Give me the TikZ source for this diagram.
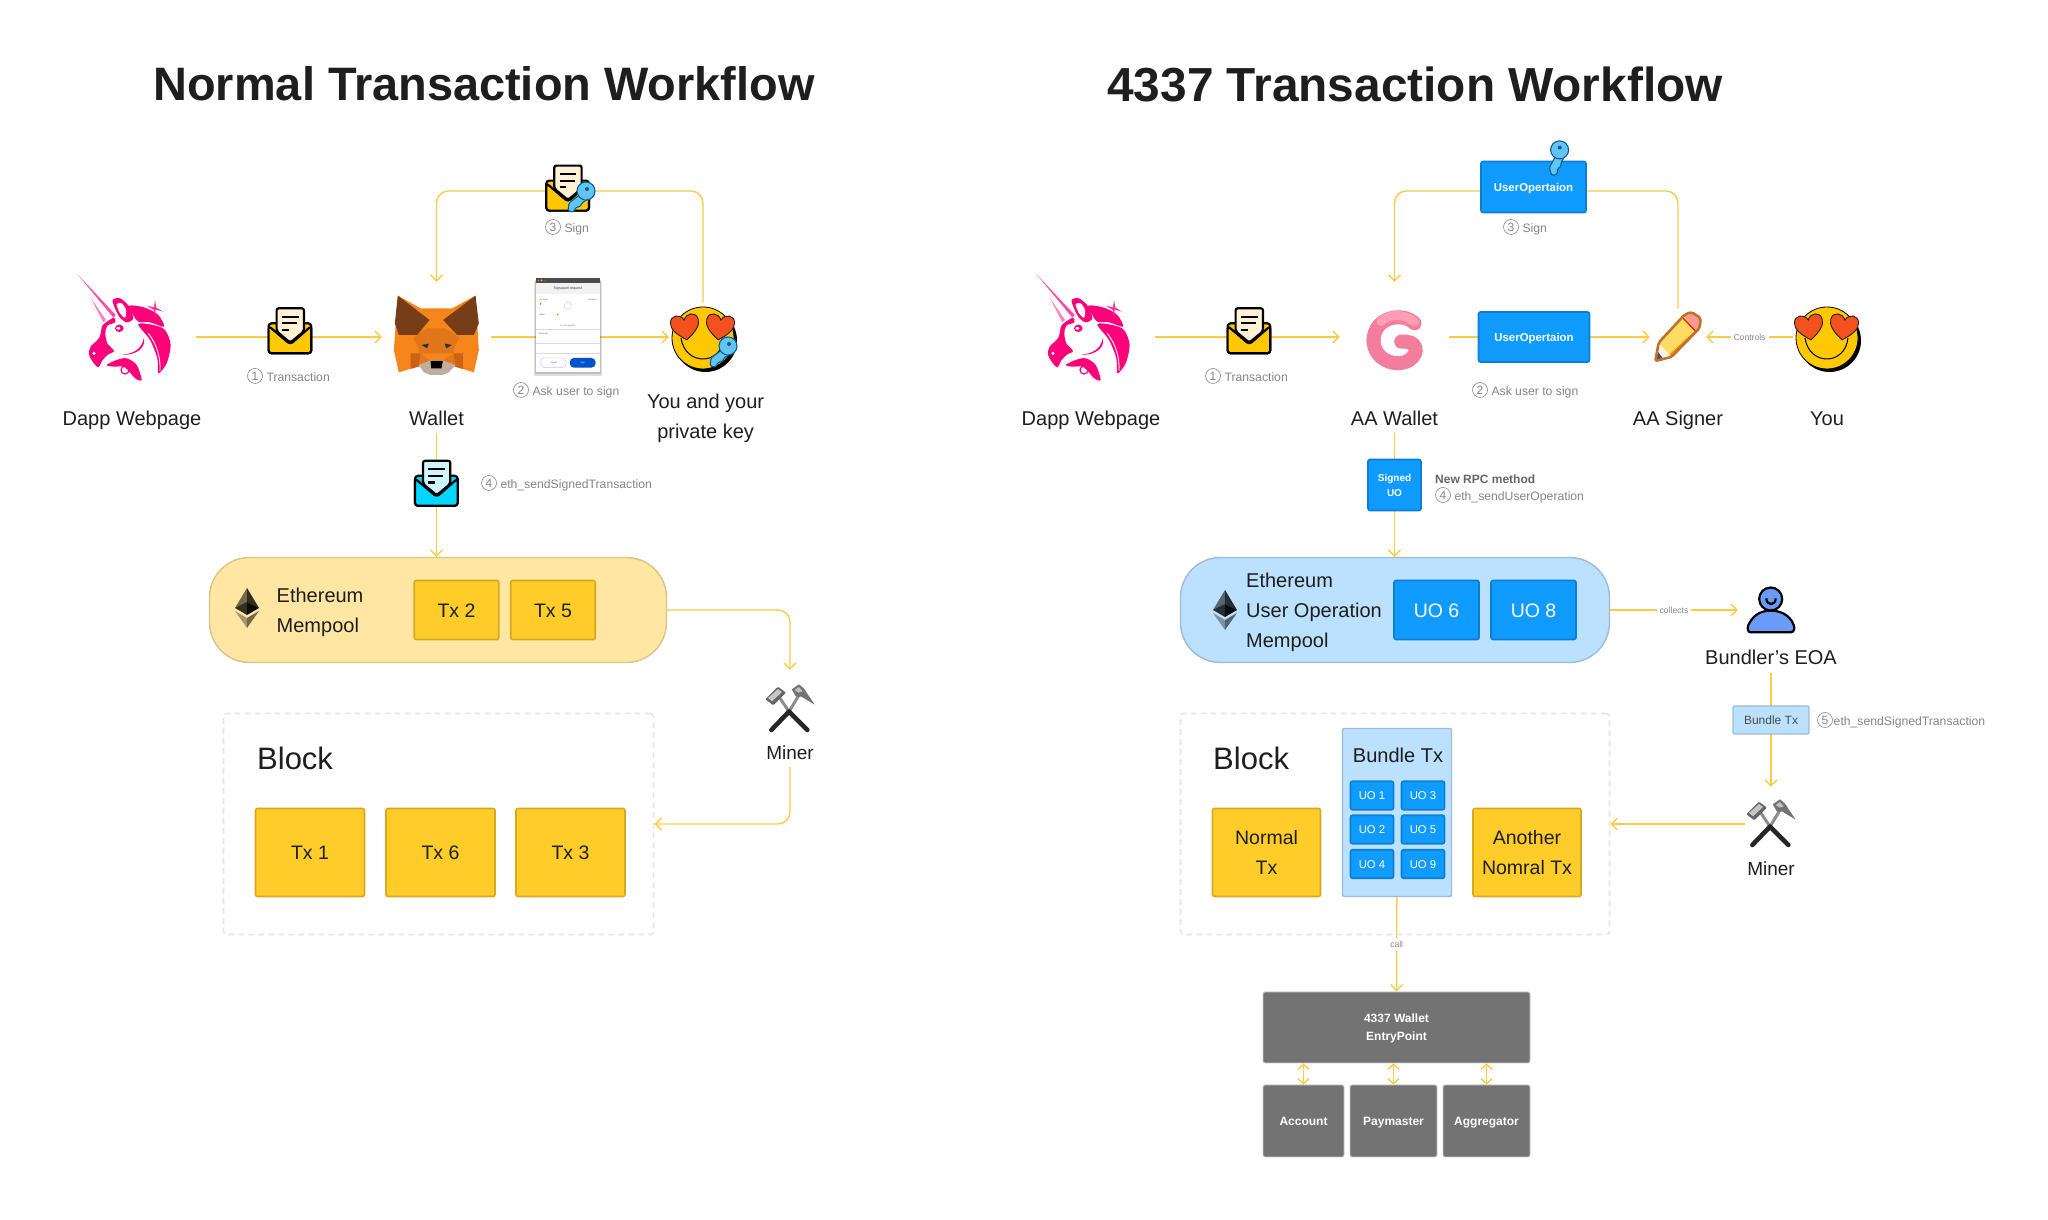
\documentclass[tikz,border=0pt]{standalone}
\usepackage{fontspec}
\setmainfont{Liberation Sans}
\usepackage{tikz}
\usetikzlibrary{arrows.meta,positioning,backgrounds}
\definecolor{flowyellow}{HTML}{FFCB45}
\definecolor{poolyellow}{HTML}{FFE6A3}
\definecolor{poolyellowline}{HTML}{D8C488}
\definecolor{txyellow}{HTML}{FFCC29}
\definecolor{txyellowline}{HTML}{D6A91F}
\definecolor{uoblue}{HTML}{0F9BFF}
\definecolor{uoblueline}{HTML}{0B7FD6}
\definecolor{poolblue}{HTML}{BBE1FF}
\definecolor{poolblueline}{HTML}{9DBBD6}
\definecolor{blockgrey}{HTML}{E6E6E6}
\definecolor{notegrey}{HTML}{858585}
\definecolor{inkblack}{HTML}{1E1E1E}
\definecolor{vmgrey}{HTML}{737373}
\definecolor{vmline}{HTML}{C8C8C8}
\definecolor{unipink}{HTML}{FF007A}
\definecolor{envyellow}{HTML}{FFC800}
\definecolor{envpaper}{HTML}{FFF1D6}
\definecolor{envcyan}{HTML}{00D6FF}
\definecolor{envice}{HTML}{CFF5FF}
\definecolor{keyblue}{HTML}{62C4F5}
\definecolor{keydark}{HTML}{0E5C8C}
\definecolor{heartred}{HTML}{F4511E}
\definecolor{foxmain}{HTML}{F6851B}
\definecolor{foxmid}{HTML}{E2761B}
\definecolor{foxdark}{HTML}{CD6116}
\definecolor{foxear}{HTML}{763D16}
\definecolor{foxeye}{HTML}{233447}
\definecolor{foxmuzzle}{HTML}{C0AD9E}
\definecolor{spiralmain}{HTML}{F47C9C}
\definecolor{spiraltop}{HTML}{FF9DB6}
\definecolor{personblue}{HTML}{6A9BF8}
% lines of a label sit at the same height, with or without descenders
\newcommand{\lineup}{\rule{0pt}{.74\baselineskip}}
\newcommand{\linedown}{\rule[-.26\baselineskip]{0pt}{.26\baselineskip}}
\tikzstyle{evenlines} = [execute at begin node=\lineup, execute at end node=\linedown]
\tikzstyle{flow} = [draw=flowyellow, line width=1.4pt, -{Straight Barb[length=6pt,width=12pt]}]
\tikzstyle{flowtwo} = [draw=flowyellow, line width=1.4pt, {Straight Barb[length=5pt,width=11pt]}-{Straight Barb[length=5pt,width=11pt]}]
\tikzstyle{iconbox} = [inner sep=0pt]
\tikzstyle{mainlabel} = [evenlines, inner sep=0pt, minimum height=30pt, align=center, text=inkblack,
    font=\fontsize{20}{30}\selectfont]
\tikzstyle{title} = [inner sep=0pt, text=inkblack, font=\fontsize{46.9}{50}\bfseries\selectfont]
\tikzstyle{notemark} = [draw=notegrey, circle, line width=0.6pt, inner sep=0pt, minimum size=15pt,
    text=notegrey, font=\fontsize{12}{12}\selectfont]
\tikzstyle{note} = [inner sep=0pt, text height=10.4pt, text depth=0pt, text=notegrey, font=\fontsize{12.2}{14}\selectfont]
\tikzstyle{midnote} = [fill=white, inner sep=3pt, text=notegrey, font=\fontsize{8.6}{10}\selectfont]
\tikzstyle{txbox} = [evenlines, draw=txyellowline, fill=txyellow, line width=1.6pt, rounded corners=2pt, inner sep=0pt,
    align=center, text=inkblack, font=\fontsize{19.5}{30}\selectfont]
\tikzstyle{uobox} = [evenlines, draw=uoblueline, fill=uoblue, line width=1.6pt, rounded corners=2pt, inner sep=0pt,
    align=center, text=white, font=\fontsize{19.5}{30}\selectfont]
\tikzstyle{minibox} = [uobox, minimum width=43pt, minimum height=28.5pt, font=\fontsize{11.3}{17}\selectfont]
\tikzstyle{opbox} = [uobox, font=\fontsize{11.4}{17}\bfseries\selectfont]
\tikzstyle{pool} = [line width=1.4pt, rounded corners=40pt, minimum height=105pt, inner sep=0pt]
\tikzstyle{blockbox} = [draw=blockgrey, line width=1.6pt, dash pattern=on 6pt off 4pt, rounded corners=3pt,
    minimum height=221pt, inner sep=0pt]
\tikzstyle{vmbox} = [evenlines, draw=vmline, fill=vmgrey, line width=0.8pt, rounded corners=2pt, inner sep=0pt, align=center,
    text=white, font=\fontsize{12}{18}\bfseries\selectfont]
\tikzset{
  pics/mailicon/.style 2 args={code={
    \begin{scope}[x=0.3333pt,y=-0.3333pt,shift={(-563,-115)}, line width=2.2pt, line join=round, draw=black]
      \draw[fill=#1, rounded corners=3pt] (500,92) rectangle (628,182);
      \draw[fill=#2, rounded corners=2pt] (524,47) -- (606,47) -- (606,116) -- (565,150) -- (524,116) -- cycle;
      \draw (540,72) -- (590,72) (540,92) -- (585,92) (540,112) -- (560,112);
      \draw[fill=#1, rounded corners=3pt] (500,100) -- (565,155) -- (628,100) -- (628,182) -- (500,182) -- cycle;
    \end{scope}
  }},
  pics/keyicon/.style={code={
    \draw[fill=keyblue, draw=keydark, line width=1.1pt, rounded corners=1.5pt]
      (-1,3) -- (-13,-6) -- (-14,-14) -- (-8,-15) -- (-6,-10) -- (-2,-10) -- (0,-6) -- (6,-2) -- cycle;
    \draw[fill=keyblue, draw=keydark, line width=1.1pt] (4,6) circle (9pt);
    \fill[keyblue] (-1,3) -- (3,-3) -- (5,1) -- (1,5) -- cycle;
    \fill[keydark] (5,8) circle (2pt);
  }},
  pics/hearticon/.style={code={
    \draw[fill=heartred, draw=inkblack, line width=0.9pt]
      (0,-14) .. controls (-10,-7) and (-15,-1) .. (-14,5) .. controls (-13,13) and (-3,13) .. (0,6)
      .. controls (3,13) and (13,13) .. (14,5) .. controls (15,-1) and (10,-7) .. (0,-14) -- cycle;
  }},
  pics/smileicon/.style={code={
    \fill[black] (2.5,-2.5) circle (31.5pt);
    \draw[fill=envyellow, draw=black, line width=0.8pt] (0,0) circle (31pt);
    \draw[line width=1pt, black] (-22,0) .. controls (-18,-28) and (18,-28) .. (21,0);
    \pic[rotate=8] at (-18,12) {hearticon};
    \pic[rotate=-8] at (17,12) {hearticon};
  }},
  pics/unicornicon/.style={code={
    \begin{scope}[x=0.3333pt,y=-0.3333pt,shift={(-165,-186)}]
      \fill[unipink!70] (22,27) -- (137,150) -- (130,158) -- cycle;
      \fill[unipink!50] (62,98) -- (108,165) -- (100,172) -- cycle;
      \fill[unipink] plot[smooth cycle] coordinates {(132,158) (136,172) (112,182) (106,205) (112,235) (132,258)
        (115,268) (98,285) (85,307) (68,290) (57,268) (62,245) (88,218) (96,185) (108,172)};
      \fill[white] (72,265) circle (1.7pt);
      \fill[unipink] plot[smooth cycle] coordinates {(128,105) (150,100) (178,125) (190,160) (170,172) (150,158) (135,130)};
      \fill[white] plot[smooth cycle] coordinates {(140,118) (155,115) (168,135) (165,158) (150,145)};
      \fill[unipink] (148,190) ellipse [x radius=13, y radius=11];
      \fill[white] (145,190) ellipse [x radius=6, y radius=4];
      \fill[unipink] plot[smooth cycle] coordinates {(178,122) (225,128) (265,150) (282,185) (240,172) (205,170) (190,150)};
      \fill[unipink] plot[smooth cycle] coordinates {(205,178) (250,180) (285,195) (302,240) (290,295) (265,325) (262,280) (240,225)};
      \draw[white, line width=0.9pt] (235,205) .. controls (262,240) and (272,280) .. (270,318);
      \fill[unipink] (155,270) .. controls (190,265) and (215,255) .. (222,218) .. controls (228,250) and (200,270) .. (155,270) -- cycle;
      \fill[unipink] plot[smooth cycle] coordinates {(110,300) (140,285) (170,280) (200,300) (215,345) (195,340) (180,322) (160,305) (130,305)};
      \draw[unipink, line width=1.2pt] (165,315) circle (4pt);
      \fill[unipink!80] (255,105) -- (259,128) -- (280,140) -- (257,134) -- (256,160) -- (252,135) -- (230,122) -- (252,127) -- cycle;
    \end{scope}
  }},
  pics/foxicon/.style={code={
    \begin{scope}[x=0.3333pt,y=-0.3333pt,shift={(-153,-150)}]
      \fill[foxmain] (37,32) -- (105,70) -- (200,70) -- (270,32) -- (280,195) -- (265,262) -- (210,245)
        -- (170,228) -- (135,228) -- (95,245) -- (40,262) -- (25,195) -- cycle;
      \fill[foxmid] (83,158) -- (125,130) -- (180,130) -- (222,158) -- (205,190) -- (205,205) -- (100,205) -- (100,190) -- cycle;
      \fill[foxdark] (75,205) -- (105,205) -- (100,245) -- (75,252) -- cycle;
      \fill[foxdark] (205,205) -- (232,205) -- (232,252) -- (208,245) -- cycle;
      \fill[foxmid] (105,205) -- (135,228) -- (100,240) -- cycle;
      \fill[foxmid] (205,205) -- (170,228) -- (208,240) -- cycle;
      \fill[foxear] (37,32) -- (132,105) -- (95,150) -- (40,150) -- (28,115) -- cycle;
      \fill[foxear] (270,32) -- (173,105) -- (215,150) -- (265,150) -- (280,115) -- cycle;
      \fill[foxeye] (108,180) -- (130,176) -- (125,190) -- cycle;
      \fill[foxeye] (178,176) -- (200,180) -- (182,190) -- cycle;
      \fill[foxmuzzle] (100,240) -- (135,226) -- (172,226) -- (210,240) -- (190,262) -- (170,270) -- (135,270) -- (115,262) -- cycle;
      \fill[black] (135,228) -- (172,228) -- (168,250) -- (137,250) -- cycle;
    \end{scope}
  }},
  pics/spiralicon/.style={code={
    \begin{scope}[x=0.3333pt,y=-0.3333pt,shift={(-105,-130)}, line cap=round]
      \draw[line width=14pt, spiralmain] (42,130) .. controls (42,190) and (110,215) .. (150,190)
        .. controls (180,170) and (175,130) .. (125,135);
      \draw[line width=14pt, spiralmain] (165,80) .. controls (130,45) and (45,60) .. (42,130);
      \draw[line width=9pt, spiraltop] (165,76) .. controls (135,50) and (90,50) .. (65,75);
    \end{scope}
  }},
  pics/pencilicon/.style={code={
    \begin{scope}[x=0.3333pt,y=-0.3333pt,shift={(-85,-125)}, line join=round]
      \fill[yellow!60!orange!60!white] (17,197) -- (27,142) -- (105,58) -- (125,50) -- (153,68) -- (150,98) -- (65,185) -- cycle;
      \fill[red!40!white] (104,62) -- (125,50) -- (153,68) -- (150,98) -- (140,108) -- cycle;
      \draw[red!80!orange, line width=1.4pt] (100,68) -- (140,110);
      \draw[orange, line width=1.4pt] (62,178) -- (133,112);
      \fill[orange!10!white] (27,142) -- (65,185) -- (17,197) -- cycle;
      \fill[blue!30!black!70!white] (17,197) -- (24,168) -- (40,190) -- cycle;
      \draw[brown!70!orange!90!black, line width=2.6pt, rounded corners=2pt]
        (17,197) -- (27,142) -- (105,58) -- (125,50) -- (153,68) -- (150,98) -- (65,185) -- cycle;
    \end{scope}
  }},
  pics/personicon/.style={code={
    \begin{scope}[x=0.3333pt,y=-0.3333pt,shift={(-106,-90)}, draw=black, line width=2.2pt]
      \draw[fill=personblue] (45,157) -- (165,157) .. controls (178,157) and (178,140) .. (172,130)
        .. controls (160,105) and (135,92) .. (105,92) .. controls (70,92) and (50,110) .. (38,135)
        .. controls (33,148) and (38,157) .. (45,157) -- cycle;
      \draw[fill=personblue] (105,57) circle (11.5pt);
      \draw (92,55) .. controls (92,78) and (120,78) .. (120,55);
    \end{scope}
  }},
  pics/hammericon/.style={code={
    \begin{scope}[x=0.3333pt,y=-0.3333pt,shift={(-78,-87)}, line cap=round]
      \draw[black!45, line width=3pt] (75,95) -- (45,50);
      \draw[black!45, line width=3pt] (75,95) -- (105,45);
      \draw[black!85, line width=4.6pt] (22,150) -- (75,95);
      \draw[black!85, line width=4.6pt] (130,150) -- (75,95);
      \fill[black!60, rounded corners=1pt] (4,58) -- (42,20) -- (66,38) -- (28,76) -- cycle;
      \fill[black!22] (12,54) -- (42,27) -- (54,36) -- (24,64) -- cycle;
      \fill[black!55] (83,28) -- (105,13) -- (120,26) -- (152,74) -- (112,50) -- (96,50) -- cycle;
      \fill[black!25] (92,30) -- (105,21) -- (116,34) -- (104,38) -- cycle;
    \end{scope}
  }},
  pics/ethicon/.style={code={
    \fill[black, opacity=0.55] (0,20) -- (-12,0) -- (0,6) -- cycle;
    \fill[black, opacity=0.8] (0,20) -- (12,0) -- (0,6) -- cycle;
    \fill[black, opacity=0.8] (-12,0) -- (0,6) -- (0,-7) -- cycle;
    \fill[black, opacity=0.95] (12,0) -- (0,6) -- (0,-7) -- cycle;
    \fill[black, opacity=0.35] (-12,-3) -- (0,-10) -- (0,-20) -- cycle;
    \fill[black, opacity=0.55] (12,-3) -- (0,-10) -- (0,-20) -- cycle;
  }},
  pics/dialogicon/.style={code={
    \begin{scope}[x=0.3333pt,y=-0.3333pt,shift={(-563.5,-524)}]
      \fill[black, opacity=0.12] (461,392) rectangle (666,678);
      \fill[black, opacity=0.15] (465,388) rectangle (662,670);
      \fill[white] (467,383) rectangle (660,665);
      \fill[black!25!white, opacity=0.2] (467,398) rectangle (660,432);
      \fill[black!70] (467,383) rectangle (660,398);
      \fill[red!70] (474,390) circle (1pt);
      \fill[yellow!80!black] (484,390) circle (1pt);
      \fill[green!60!black] (494,390) circle (1pt);
      \draw[black!15, line width=0.4pt] (467,537) -- (660,537) (467,580) -- (660,580) (467,610) -- (660,610);
      \draw[black!20, line width=0.4pt] (563,466) circle (3.6pt);
      \fill[orange] (481,461) circle (1pt);
      \fill[orange] (533,493) circle (1pt);
      \draw[blue!25, line width=0.4pt, rounded corners=4pt] (481,623) rectangle (558,652);
      \fill[blue!60!cyan!80!black, rounded corners=4pt] (569,623) rectangle (646,652);
      \node[inner sep=0pt, font=\fontsize{3.6}{4}\selectfont, text=black!75] (dlgtitle) at (563,415) {Signature request};
      \node[inner sep=0pt, anchor=west, font=\fontsize{2.2}{3}\selectfont, text=black!60] (dlgaccount) at (478,447) {Account:};
      \node[inner sep=0pt, anchor=east, font=\fontsize{2.2}{3}\selectfont, text=black!60] (dlgbalance) at (652,447) {Balance:};
      \node[inner sep=0pt, anchor=west, font=\fontsize{2.2}{3}\selectfont, text=black!60] (dlgorigin) at (476,493) {Origin:};
      \node[inner sep=0pt, font=\fontsize{2.2}{3}\selectfont, text=black!60] (dlgsigning) at (563,527) {You are signing:};
      \node[inner sep=0pt, anchor=west, font=\fontsize{2.2}{3}\selectfont, text=black!60] (dlgmessage) at (476,552) {Message:};
      \node[inner sep=0pt, font=\fontsize{2.2}{3}\selectfont, text=blue!70] (dlgcancel) at (520,637) {Cancel};
      \node[inner sep=0pt, font=\fontsize{2.2}{3}\selectfont, text=white] (dlgsign) at (607,637) {Sign};
    \end{scope}
  }}
}
\begin{document}
\begin{tikzpicture}[x=1pt, y=1pt]
  \useasboundingbox (0,0) rectangle (2048,1220);
  % Titles
  \node [title] (titleleft) at (484,1136) {Normal Transaction Workflow};
  \node [title, font=\fontsize{47.8}{50}\bfseries\selectfont, right of=titleleft, node distance=931pt] (titleright) {4337 Transaction Workflow};

  % Place nodes, normal workflow
  \node [iconbox, minimum width=119pt, minimum height=109pt] (dapp) at (136.5,883) {};
  \node [mainlabel, below of=dapp, node distance=81pt, xshift=-4.5pt] (dapplabel) {Dapp Webpage};
  \node [iconbox, minimum width=109pt, minimum height=110pt] (fox) at (436.5,883) {};
  \node [mainlabel, below of=fox, node distance=81pt] (foxlabel) {Wallet};
  \node [iconbox, minimum width=68pt, minimum height=68pt] (smile) at (703,883) {};
  \node [mainlabel] (smilelabel) at (705.6,804) {\lineup You and your\\private key};
  \node [iconbox, minimum width=43pt, minimum height=47pt] (txmail) at (289.6,889) {};
  \node [iconbox, minimum width=50pt, minimum height=40pt] (signmail) at (571,1029) {};
  \node [iconbox, minimum width=64pt, minimum height=94pt] (dialog) at (568,895) {};
  \node [iconbox, minimum width=43pt, minimum height=47pt] (sentmail) at (436,736.5) {};

  \node [notemark] (markone) at (255,844) {1};
  \node [note, right=3.5pt of markone] (noteone) {Transaction};
  \node [notemark] (marktwo) at (521,830) {2};
  \node [note, right=3.5pt of marktwo] (notetwo) {Ask user to sign};
  \node [notemark] (markthree) at (553,993) {3};
  \node [note, right=3.5pt of markthree] (notethree) {Sign};
  \node [notemark] (markfour) at (489,737) {4};
  \node [note, right=3.5pt of markfour] (notefour) {eth\_sendSignedTransaction};

  \node [pool, draw=poolyellowline, fill=poolyellow, minimum width=457pt] (mempool) at (438,610) {};
  \node [mainlabel, anchor=west, align=left, minimum height=60pt] (mempooltext) at (276.5,610) {\lineup Ethereum\\Mempool};
  \node [txbox, minimum width=84.5pt, minimum height=59pt] (txtwo) at (456.5,610) {Tx 2};
  \node [txbox, minimum width=84.5pt, minimum height=59pt, right of=txtwo, node distance=96.5pt] (txfive) {Tx 5};

  \node [iconbox, minimum width=60pt, minimum height=78pt] (minerone) at (790,511) {};
  \node [mainlabel, font=\fontsize{19}{30}\selectfont, below of=minerone, node distance=43pt] (mineronelabel) {Miner};

  \node [blockbox, minimum width=430pt] (blockone) at (438.5,396) {};
  \node [mainlabel, anchor=west, font=\fontsize{31}{46}\selectfont] (blockonelabel) at (257,462) {Block};
  \node [txbox, minimum width=109pt, minimum height=88pt] (txone) at (310,367.5) {Tx 1};
  \node [txbox, minimum width=109pt, minimum height=88pt, right of=txone, node distance=130.5pt] (txsix) {Tx 6};
  \node [txbox, minimum width=109pt, minimum height=88pt, right of=txsix, node distance=130pt] (txthree) {Tx 3};

  % Place nodes, 4337 workflow
  \node [iconbox, minimum width=119pt, minimum height=109pt] (dapptwo) at (1095.5,883) {};
  \node [mainlabel, below of=dapptwo, node distance=81pt, xshift=-4.5pt] (dapptwolabel) {Dapp Webpage};
  \node [iconbox, minimum width=109pt, minimum height=110pt] (spiral) at (1394.5,883) {};
  \node [mainlabel, below of=spiral, node distance=81pt] (spirallabel) {AA Wallet};
  \node [iconbox, minimum width=56pt, minimum height=56pt] (signer) at (1678,883) {};
  \node [mainlabel, below of=signer, node distance=81pt] (signerlabel) {AA Signer};
  \node [iconbox, minimum width=68pt, minimum height=68pt] (you) at (1827,883) {};
  \node [mainlabel, below of=you, node distance=81pt] (youlabel) {You};
  \node [iconbox, minimum width=43pt, minimum height=47pt] (txmailtwo) at (1248.6,889) {};
  \node [opbox, minimum width=105pt, minimum height=51pt] (signop) at (1533.5,1033) {UserOpertaion};
  \node [opbox, minimum width=111pt, minimum height=50pt] (askop) at (1534,883) {UserOpertaion};
  \node [uobox, minimum width=53pt, minimum height=51pt, font=\fontsize{10}{15}\bfseries\selectfont] (signeduo) at (1394.5,735) {\lineup Signed\\UO};

  \node [notemark] (marktwoone) at (1213,844) {1};
  \node [note, right=3.5pt of marktwoone] (notetwoone) {Transaction};
  \node [notemark] (marktwotwo) at (1480,830) {2};
  \node [note, right=3.5pt of marktwotwo] (notetwotwo) {Ask user to sign};
  \node [notemark] (marktwothree) at (1511,993) {3};
  \node [note, right=3.5pt of marktwothree] (notetwothree) {Sign};
  \node [notemark] (marktwofour) at (1443,725) {4};
  \node [note, right=3.5pt of marktwofour] (notetwofour) {eth\_sendUserOperation};
  \node [note, anchor=west, font=\fontsize{12}{14}\bfseries\selectfont, text=black!60] (rpcnote) at (1435,742) {New RPC method};

  \node [pool, draw=poolblueline, fill=poolblue, minimum width=429pt] (mempooltwo) at (1395,610) {};
  \node [mainlabel, anchor=west, align=left, minimum height=90pt] (mempooltwotext) at (1246,610) {\lineup Ethereum\\User Operation\\Mempool};
  \node [uobox, minimum width=85pt, minimum height=59pt] (uosix) at (1436.5,610) {UO 6};
  \node [uobox, minimum width=85pt, minimum height=59pt, right of=uosix, node distance=97pt] (uoeight) {UO 8};

  \node [iconbox, minimum width=66pt, minimum height=50pt] (bundler) at (1771,610) {};
  \node [mainlabel, minimum height=32pt, below of=bundler, node distance=47pt] (bundlerlabel) {Bundler’s EOA};
  \node [draw=poolblueline, fill=poolblue, line width=1.4pt, rounded corners=2pt, inner sep=0pt, minimum width=76pt,
    minimum height=28pt, text=inkblack!80, font=\fontsize{12}{14}\selectfont] (bundlesmall) at (1771,500) {Bundle Tx};
  \node [notemark] (markfive) at (1825,500) {5};
  \node [note, anchor=west] (notefive) at (1833.5,500) {eth\_sendSignedTransaction};
  \node [iconbox, minimum width=52pt, minimum height=74pt] (minertwo) at (1771,396) {};
  \node [mainlabel, font=\fontsize{19}{30}\selectfont, below of=minertwo, node distance=44pt] (minertwolabel) {Miner};

  \node [blockbox, minimum width=429pt] (blocktwo) at (1395,396) {};
  \node [mainlabel, anchor=west, font=\fontsize{31}{46}\selectfont] (blocktwolabel) at (1213,462) {Block};
  \node [txbox, minimum width=108pt, minimum height=88pt] (normaltx) at (1266.5,367.5) {\lineup Normal\\Tx};
  \node [txbox, minimum width=108pt, minimum height=88pt] (anothertx) at (1527,367.5) {\lineup Another\\Nomral Tx};
  \node [draw=poolblueline, fill=poolblue, line width=1.4pt, rounded corners=2pt, inner sep=0pt, minimum width=109pt,
    minimum height=168pt] (bundlebox) at (1397,407.5) {};
  \node [mainlabel] (bundleboxlabel) at (1398,465) {Bundle Tx};
  \node [minibox] (uoone) at (1372,424.5) {UO 1};
  \node [minibox, right of=uoone, node distance=51pt] (uothree) {UO 3};
  \node [minibox, below of=uoone, node distance=34pt] (uotwo) {UO 2};
  \node [minibox, right of=uotwo, node distance=51pt] (uofive) {UO 5};
  \node [minibox, below of=uotwo, node distance=34.5pt] (uofour) {UO 4};
  \node [minibox, right of=uofour, node distance=51pt] (uonine) {UO 9};

  \node [vmbox, minimum width=267pt, minimum height=71pt] (entrypoint) at (1396.5,192.5) {\lineup 4337 Wallet\\EntryPoint};
  \node [vmbox, minimum width=81pt, minimum height=72pt] (account) at (1303.5,99) {Account};
  \node [vmbox, minimum width=87pt, minimum height=72pt, right of=account, node distance=90pt] (paymaster) {Paymaster};
  \node [vmbox, minimum width=87pt, minimum height=72pt, right of=paymaster, node distance=93pt] (aggregator) {Aggregator};

  % Connectors go under everything
  \begin{scope}[on background layer]
    \draw [flow] (dapp) -- (fox);
    \draw [flow] (fox) -- (smile);
    \draw [flow, rounded corners=12pt] (smile.north) |- (signmail.center) -| (fox.north);
    \draw [flow] (foxlabel.south) -- (foxlabel.south |- mempool.north);
    \draw [flow, rounded corners=12pt] (mempool.east) -| (minerone.north);
    \draw [flow, rounded corners=12pt] (mineronelabel.south) |- (blockone.east);

    \draw [flow] (dapptwo) -- (spiral);
    \draw [flow] (spiral) -- (signer);
    \draw [flow] (you) -- node[midnote] (controlsnote) {Controls} (signer);
    \draw [flow, rounded corners=12pt] (signer.north) |- ([yshift=-4pt]signop.center) -| (spiral.north);
    \draw [flow] (spirallabel.south) -- (spirallabel.south |- mempooltwo.north);
    \draw [flow] (mempooltwo) -- node[midnote] (collectsnote) {collects} (bundler);
    \draw [flow] (bundlerlabel.south) -- (minertwo.north);
    \draw [flow] (minertwo) -- (blocktwo);
    \draw [flow] (bundlebox) -- node[midnote] (callnote) {call} (entrypoint);
    \draw [flowtwo] (account.north) -- (account.north |- entrypoint.south);
    \draw [flowtwo] (paymaster.north) -- (paymaster.north |- entrypoint.south);
    \draw [flowtwo] (aggregator.north) -- (aggregator.north |- entrypoint.south);
  \end{scope}

  % Icons
  \pic at ([xshift=-11.5pt,yshift=10pt]dapp.center) {unicornicon};
  \pic at ([xshift=-11.5pt,yshift=10pt]dapptwo.center) {unicornicon};
  \pic at ([yshift=2pt]fox.center) {foxicon};
  \pic at ([yshift=-1pt]smile.center) {smileicon};
  \pic at ([xshift=21pt,yshift=-15pt]smile.center) {keyicon};
  \pic at (txmail) {mailicon={envyellow}{envpaper}};
  \pic at (txmailtwo) {mailicon={envyellow}{envpaper}};
  \pic at ([xshift=-3.7pt,yshift=2.7pt]signmail.center) {mailicon={envyellow}{envpaper}};
  \pic at ([xshift=11pt,yshift=-6pt]signmail.center) {keyicon};
  \pic at (sentmail) {mailicon={envcyan}{envice}};
  \pic at (dialog) {dialogicon};
  \pic at (247,612) {ethicon};
  \pic at (1225,610) {ethicon};
  \pic at (minerone) {hammericon};
  \pic at (minertwo) {hammericon};
  \pic at ([yshift=-3pt]spiral.center) {spiralicon};
  \pic at (signer) {pencilicon};
  \pic at ([yshift=-1pt]you.center) {smileicon};
  \pic at (bundler) {personicon};
  \pic[rotate=25] at ([xshift=25pt,yshift=30pt]signop.center) {keyicon};
\end{tikzpicture}
\end{document}
